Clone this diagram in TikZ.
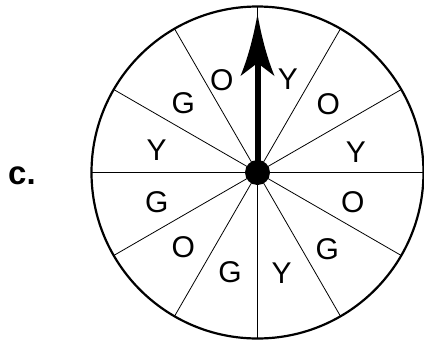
\documentclass[tikz,border=0pt]{standalone}
\usepackage{fontspec}
\setmainfont{Liberation Sans}
\begin{document}
\begin{tikzpicture}[x=1pt,y=-1pt,
  rim/.style={line width=2.2pt},
  spoke/.style={line width=0.8pt},
  lab/.style={inner sep=0pt,font=\fontsize{30}{30}\selectfont},
  partlab/.style={inner sep=0pt,font=\fontsize{33}{33}\selectfont\bfseries}]
\useasboundingbox (0,0) rectangle (424,341);
\coordinate (c) at (257.5,172.5);
\foreach \a in {0,30,...,330}{
  \draw[spoke] (c) -- ++({166*cos(\a)},{-166*sin(\a)});
}
\draw[rim] (c) circle[radius=166];
% pointer
\fill (256.5,172.5) rectangle (259.5,60) ;
\fill (254.5,172.5) rectangle (260.5,60);
\fill (257.5,14) .. controls (253,40) and (247,60) .. (240.5,76)
  -- (257.5,63) -- (274.5,76)
  .. controls (268,60) and (262,40) .. (257.5,14) -- cycle;
\fill (c) circle[radius=12.5];
% labels
\node[lab] (l1) at (221.7,80) {O};
\node[lab] (l2) at (287.8,78.7) {Y};
\node[lab] (l3) at (328.3,104) {O};
\node[lab] (l4) at (356,151.7) {Y};
\node[lab] (l5) at (352.7,201.7) {O};
\node[lab] (l6) at (327.3,249.3) {G};
\node[lab] (l7) at (281.7,273.3) {Y};
\node[lab] (l8) at (230,271.7) {G};
\node[lab] (l9) at (183.3,246.7) {O};
\node[lab] (l10) at (156.7,201.7) {G};
\node[lab] (l11) at (156.7,150) {Y};
\node[lab] (l12) at (183.3,102.7) {G};
\node[partlab,anchor=base west] (part) at (8,184.3) {c.};
\end{tikzpicture}
\end{document}
